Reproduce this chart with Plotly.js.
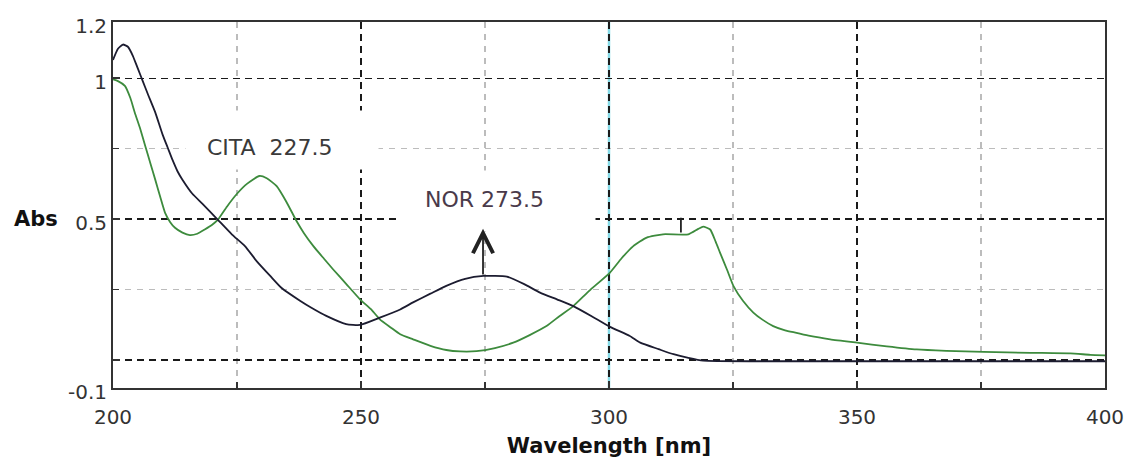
<!DOCTYPE html>
<html>
<head>
<meta charset="utf-8">
<script src="https://cdn.plot.ly/plotly-3.0.1.min.js"></script>
<style>html,body{margin:0;padding:0;background:#fff;}#chart{width:1126px;height:459px;}</style>
</head>
<body>
<div id="chart"></div>
<script>
// NOR spectrum (dark curve)
const norWavelength = [200,201,202,203,204,205,206,207,208.5,210,211,212,213,214,216,218,221,224,226.6,229,231.7,234,237.7,240,243,247,249.8,253.8,257.9,260.5,264,267.2,271,274.7,279.4,283,286.1,289.5,292.8,296.5,300.2,304.2,306.3,310,313,316,319,330,345,360,380,400];
const norAbs = [1.065,1.105,1.12,1.112,1.08,1.035,0.99,0.945,0.88,0.8,0.755,0.71,0.67,0.64,0.59,0.555,0.5,0.445,0.404,0.35,0.298,0.255,0.21,0.185,0.156,0.127,0.124,0.15,0.179,0.204,0.235,0.263,0.288,0.298,0.296,0.268,0.239,0.215,0.191,0.155,0.117,0.085,0.061,0.038,0.02,0.007,-0.003,-0.005,-0.005,-0.005,-0.005,-0.005];

// CITA spectrum (green curve)
const citaWavelength = [200,201,202.4,203.5,204.4,205.5,206.5,207.5,208.5,209.5,210.5,211.5,212.5,214,215.5,217,218.5,220,221.2,223,225,227,229.5,231,233,235,237,238.5,240.4,242.5,244.4,247,249.8,252,253.8,256,257.9,260.5,264,267.2,270,273.3,277,280.7,284,287.4,290,292.8,296,300.2,302.5,304.9,307.6,310.9,316,318,319,320.4,321.5,322.4,323.8,325.1,327,329.1,331,333.1,335.5,337.8,340.5,344.6,350,356,362,368,375.5,385,393,397,400];
const citaAbs = [0.996,0.99,0.973,0.93,0.878,0.82,0.76,0.70,0.641,0.58,0.522,0.49,0.469,0.452,0.443,0.448,0.463,0.48,0.499,0.545,0.59,0.625,0.653,0.645,0.617,0.56,0.493,0.45,0.404,0.36,0.321,0.27,0.215,0.18,0.144,0.115,0.091,0.073,0.05,0.035,0.03,0.031,0.042,0.061,0.088,0.12,0.155,0.191,0.245,0.31,0.36,0.404,0.434,0.446,0.446,0.465,0.473,0.463,0.42,0.38,0.32,0.262,0.21,0.168,0.142,0.12,0.105,0.096,0.085,0.073,0.061,0.048,0.037,0.032,0.028,0.025,0.023,0.018,0.016];

// peak marker on CITA curve
const citaMarkX = [314.5, 314.5];
const citaMarkY = [0.452, 0.505];

// NOR arrow (from peak up to label)
const norArrow = {x: 274.6, yFrom: 0.298, yTo: 0.466};

// labels
const labelTexts = ['CITA  227.5', 'NOR 273.5'];
const labelX = [231.65, 274.8];
const labelY = [0.7525, 0.568];
// white boxes behind labels
const boxX = [234.07, 277.3];
const boxY = [0.781, 0.564];

// axis ticks
const xTickVals = [200, 250, 300, 350, 400];
const xMinorVals = [225, 275, 325, 375];
const yTickVals = [-0.1, 0, 0.5, 1, 1.2];
const yTickText = ['-0.1', '', '0.5', '1', '1.2'];
const yMinorVals = [0.25, 0.75];
const cursorX = 300;

const FONT = 'DejaVu Sans, Arial, sans-serif';

const traces = [
  {x: citaWavelength, y: citaAbs, type: 'scatter', mode: 'lines', line: {color: '#3d8b3d', width: 1.8, shape: 'spline', smoothing: 0.5}, hoverinfo: 'skip'},
  {x: norWavelength, y: norAbs, type: 'scatter', mode: 'lines', line: {color: '#1c1c30', width: 1.8, shape: 'spline', smoothing: 0.5}, hoverinfo: 'skip'},
  {x: citaMarkX, y: citaMarkY, type: 'scatter', mode: 'lines', line: {color: '#222', width: 1.8}, hoverinfo: 'skip'}
];

const layout = {
  width: 1126, height: 459,
  margin: {l: 113, r: 21, t: 22, b: 71},
  paper_bgcolor: '#fff', plot_bgcolor: '#fff',
  showlegend: false,
  font: {family: FONT, size: 20, color: '#333'},
  xaxis: {
    range: [200, 400], tickvals: xTickVals, ticktext: xTickVals.map(String),
    ticks: 'inside', ticklen: 7, tickwidth: 2, tickcolor: '#333',
    showline: true, linecolor: '#333', linewidth: 2, mirror: true,
    showgrid: true, gridcolor: '#1a1a1a', griddash: '7px,5px', gridwidth: 1.6,
    zeroline: false,
    minor: {tickvals: xMinorVals, ticks: 'inside', ticklen: 6, tickcolor: '#333', tickwidth: 1.5,
            showgrid: true, gridcolor: '#bcbcbc', griddash: '6px,6px', gridwidth: 1.2},
    tickfont: {family: FONT, size: 20, color: '#333'},
    ticklabelstandoff: 10,
    title: {text: '<b>Wavelength [nm]</b>', font: {family: FONT, size: 21, color: '#111'}, standoff: 10}
  },
  yaxis: {
    range: [-0.1, 1.2], tickvals: yTickVals, ticktext: yTickText,
    ticks: 'inside', ticklen: 7, tickwidth: 2, tickcolor: '#333',
    showline: true, linecolor: '#333', linewidth: 2, mirror: true,
    showgrid: true, gridcolor: '#1a1a1a', griddash: '7px,5px', gridwidth: 1.6,
    zeroline: false,
    minor: {tickvals: yMinorVals, ticks: 'inside', ticklen: 6, tickcolor: '#333', tickwidth: 1.5,
            showgrid: true, gridcolor: '#bcbcbc', griddash: '6px,6px', gridwidth: 1.2},
    tickfont: {family: FONT, size: 20, color: '#333'},
    ticklabelshift: 4
  },
  shapes: [
    {type: 'line', xref: 'x', yref: 'paper', x0: cursorX, x1: cursorX, y0: 0, y1: 1, layer: 'below',
     line: {color: '#86dbe8', width: 2.5}}
  ],
  annotations: [
    {text: ' ', x: boxX[0], y: boxY[0], xref: 'x', yref: 'y', showarrow: false,
     bgcolor: '#fff', width: 190, height: 56},
    {text: ' ', x: boxX[1], y: boxY[1], xref: 'x', yref: 'y', showarrow: false,
     bgcolor: '#fff', width: 196, height: 58},
    {text: labelTexts[0], x: labelX[0], y: labelY[0], xref: 'x', yref: 'y', showarrow: false,
     font: {family: FONT, size: 22, color: '#3a3a3a'}},
    {text: labelTexts[1], x: labelX[1], y: labelY[1], xref: 'x', yref: 'y', showarrow: false,
     font: {family: FONT, size: 22, color: '#4a3a4a'}},
    {text: '', x: norArrow.x, y: norArrow.yTo, ax: norArrow.x, ay: norArrow.yFrom, xref: 'x', yref: 'y',
     axref: 'x', ayref: 'y', showarrow: true, arrowhead: 5, arrowsize: 2.2, arrowwidth: 1.8, arrowcolor: '#222'},
    {text: '<b>Abs</b>', xref: 'paper', yref: 'y', x: -0.078, y: 0.5, xanchor: 'center', yanchor: 'middle',
     showarrow: false, font: {family: FONT, size: 21, color: '#111'}}
  ]
};

Plotly.newPlot('chart', traces, layout, {staticPlot: true, displayModeBar: false});
</script>
</body>
</html>
